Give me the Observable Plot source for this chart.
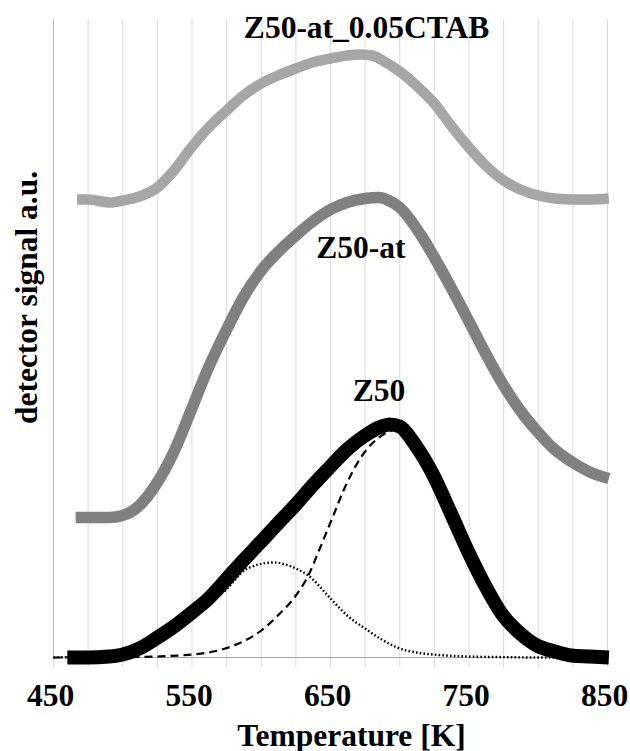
<!DOCTYPE html>
<html>
<head>
<meta charset="utf-8">
<script src="https://cdn.jsdelivr.net/npm/d3@7"></script>
<script src="https://cdn.jsdelivr.net/npm/@observablehq/plot@0.6"></script>
<style>
  html, body { margin: 0; padding: 0; background: #fff; }
  #chart svg { display: block; }
  #chart svg, #chart svg text { font-family: "Liberation Serif", "Times New Roman", serif !important; }
</style>
</head>
<body>
<div id="chart"></div>
<script>
// ---- Data ----
// Temperature [K] and detector signal (arbitrary units)
const z50T = [460, 475, 490, 500, 512, 524, 537, 549, 562, 574, 587, 600, 612, 625, 637, 650, 662, 675, 685, 693, 700, 711, 724, 737, 749, 762, 774, 787, 799, 812, 824, 837, 851];
const z50V = [0, 0, 1, 3, 9, 19, 31, 44, 59, 77, 97, 116, 134, 153, 172, 191, 208, 222, 230, 233, 231, 213, 183, 144, 107, 71, 43, 24, 12, 6, 2, 1, 0];

const dashT = [450, 500, 525, 550, 562, 574, 587, 600, 612, 625, 634, 642, 650, 662, 675, 684, 691, 697, 705, 712, 724, 737, 749, 762, 774, 787, 799, 812, 824, 837, 850];
const dashV = [0, 0.3, 1, 3, 5, 9, 16, 27, 42, 62, 82, 108, 135, 175, 206, 219, 225, 228, 222, 207, 180, 142, 106, 70, 42, 23, 12, 6, 2, 1, 0];

const dotT = [450, 475, 500, 524, 549, 562, 574, 590, 609, 625, 634, 650, 662, 675, 687, 698, 712, 724, 749, 774, 800, 850];
const dotV = [0, 1, 3, 17, 40, 53, 67, 89, 95, 89, 82, 59, 42, 29, 18, 10, 5, 3, 1, 0.4, 0, 0];

const z50atT = [466, 480, 490, 500, 512, 524, 536, 549, 561, 575, 587, 600, 614, 625, 638, 650, 662, 675, 685, 692, 700, 715, 725, 737, 750, 762, 775, 787, 800, 811, 825, 838, 851];
const z50atV = [140, 140, 140, 142, 152, 173, 203, 246, 287, 328, 360, 387, 408, 422, 437, 448, 455, 459, 460, 457, 450, 423, 400, 370, 336, 304, 272, 247, 225, 209, 195, 185, 179];

const ctabT = [467, 475, 491, 500, 512, 525, 537, 549, 562, 575, 587, 600, 612, 625, 637, 650, 662, 672, 680, 690, 700, 712, 725, 737, 750, 762, 775, 787, 800, 812, 825, 837, 851];
const ctabV = [458, 458, 455, 457, 461, 470, 487, 509, 530, 547, 562, 574, 582, 589, 595, 599, 602, 603, 602, 595, 586, 572, 554, 532, 510, 492, 477, 468, 462, 459, 458, 458, 459];

const labelText = ["Z50-at_0.05CTAB", "Z50-at", "Z50"];
const labelT = [676, 672, 685];
const labelV = [620, 400, 257];

const labelTicks = [450, 550, 650, 750, 850];
const gridTicks = d3.range(450, 851, 25);

const xTitle = "Temperature [K]";
const yTitle = "detector signal a.u.";

// ---- Build tables ----
const toRows = (T, V) => T.map((t, i) => ({t, v: V[i]}));
const z50 = toRows(z50T, z50V);
const dash = toRows(dashT, dashV);
const dot = toRows(dotT, dotV);
const z50at = toRows(z50atT, z50atV);
const ctab = toRows(ctabT, ctabV);
const labels = labelText.map((s, i) => ({s, t: labelT[i], v: labelV[i]}));

const font = "Liberation Serif, Times New Roman, serif";
const fs = 31.5;
const curve = "monotone-x";

const chart = Plot.plot({
  width: 630,
  height: 751,
  marginTop: 19,
  marginBottom: 94,
  marginLeft: 53,
  marginRight: 23,
  style: {background: "#fff", color: "#000"},
  x: {domain: [450, 850]},
  y: {domain: [0, 638]},
  marks: [
    Plot.gridX(gridTicks, {stroke: "#d9d9d9", strokeOpacity: 1, strokeWidth: 1}),
    Plot.axisX(gridTicks, {tickSize: 10, tickFormat: () => "", stroke: "#d9d9d9", strokeOpacity: 1, label: null}),
    Plot.ruleX([450], {stroke: "#bfbfbf", strokeWidth: 1}),
    Plot.ruleY([0], {stroke: "#a6a6a6", strokeWidth: 1}),
    Plot.axisX(labelTicks, {tickSize: 0, tickPadding: 26, fontSize: fs, fontWeight: "bold", fontFamily: font, dx: -3, label: null}),
    Plot.axisY({ticks: [], label: null}),
    Plot.line(ctab, {x: "t", y: "v", stroke: "#a6a6a6", strokeWidth: 10.5, curve, strokeLinecap: "butt", strokeLinejoin: "round"}),
    Plot.line(z50at, {x: "t", y: "v", stroke: "#808080", strokeWidth: 11.5, curve, strokeLinecap: "butt", strokeLinejoin: "round"}),
    Plot.line(dash, {x: "t", y: "v", stroke: "#000", strokeWidth: 2.2, strokeDasharray: "8,5", curve, strokeLinecap: "butt"}),
    Plot.line(dot, {x: "t", y: "v", stroke: "#000", strokeWidth: 2.4, strokeDasharray: "1.6,2.2", curve, strokeLinecap: "butt"}),
    Plot.line(z50, {x: "t", y: "v", stroke: "#000", strokeWidth: 14, curve, strokeLinecap: "butt", strokeLinejoin: "round"}),
    Plot.text(labels, {x: "t", y: "v", text: "s", fontSize: fs, fontWeight: "bold", fontFamily: font, lineAnchor: "bottom", fill: "#000"}),
    Plot.text([xTitle], {frameAnchor: "bottom", textAnchor: "middle", lineAnchor: "bottom", dy: 88, dx: 21, fontSize: fs, fontWeight: "bold", fontFamily: font, fill: "#000"}),
    Plot.text([yTitle], {frameAnchor: "left", textAnchor: "middle", rotate: -90, dx: -27, dy: -41, fontSize: fs, fontWeight: "bold", fontFamily: font, fill: "#000"})
  ]
});
document.getElementById("chart").appendChild(chart);
</script>
</body>
</html>
